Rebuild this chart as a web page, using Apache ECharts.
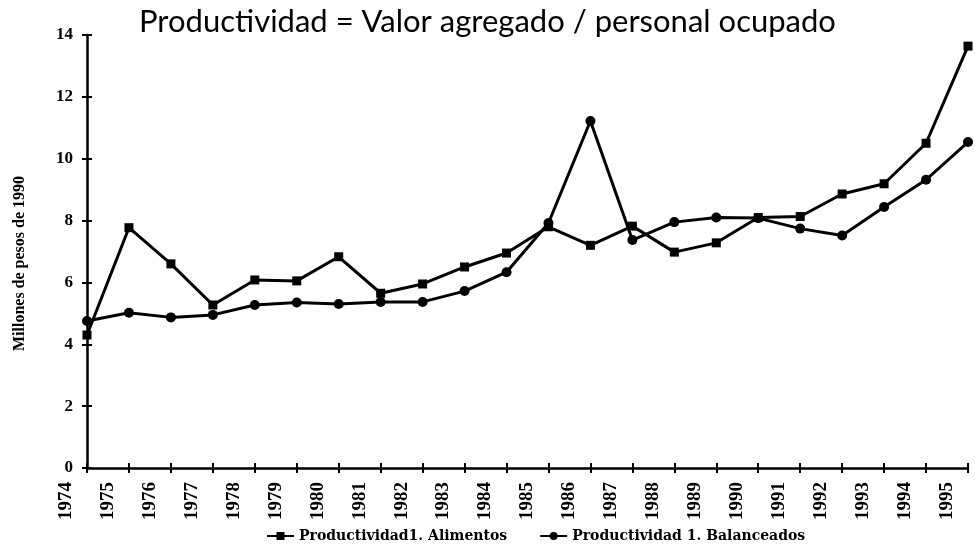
<!DOCTYPE html>
<html>
<head>
<meta charset="utf-8">
<script src="https://cdn.jsdelivr.net/npm/echarts@6/dist/echarts.min.js"></script>
<style>
html,body{margin:0;padding:0;background:#fff;}
#chart{width:975px;height:552px;}
</style>
</head>
<body>
<div id="chart"></div>
<script>
const titleText = 'Productividad = Valor agregado / personal ocupado';
const yAxisName = 'Millones de pesos de 1990';
const years = ['1974','1975','1976','1977','1978','1979','1980','1981','1982','1983','1984','1985','1986','1987','1988','1989','1990','1991','1992','1993','1994','1995'];
const nameAlimentos = 'Productividad1. Alimentos';
const nameBalanceados = 'Productividad 1. Balanceados';
const alimentos = [4.3, 7.77, 6.6, 5.27, 6.08, 6.05, 6.83, 5.65, 5.95, 6.5, 6.95, 7.8, 7.2, 7.82, 6.98, 7.28, 8.1, 8.13, 8.86, 9.19, 10.5, 13.64];
const balanceados = [4.75, 5.02, 4.87, 4.95, 5.27, 5.35, 5.3, 5.37, 5.37, 5.72, 6.33, 7.92, 11.22, 7.37, 7.95, 8.1, 8.08, 7.74, 7.52, 8.44, 9.32, 10.54];
const yTicks = {min: 0, max: 14, interval: 2};

const serif = '"Liberation Serif", "DejaVu Serif", serif';
const chart = echarts.init(document.getElementById('chart'));
chart.setOption({
  backgroundColor: '#fff',
  animation: false,
  title: {
    text: titleText, left: 'center', top: 1,
    textStyle: {fontFamily: 'Lato, "Open Sans", sans-serif', fontSize: 31, fontWeight: 'normal', color: '#000'}
  },
  legend: {
    bottom: 4, left: 261, itemGap: 32, itemWidth: 27, itemHeight: 10,
    textStyle: {fontFamily: '"DejaVu Serif", serif', fontWeight: 'bold', fontSize: 14, color: '#000'},
    data: [nameAlimentos, nameBalanceados]
  },
  grid: [
    {left: 87, right: 7, top: 35, bottom: 84, containLabel: false},
    {left: 45, right: 7, top: 35, bottom: 84, containLabel: false}
  ],
  xAxis: [{
    type: 'category', data: years, boundaryGap: false, position: 'bottom', gridIndex: 0,
    axisLine: {lineStyle: {color: '#000', width: 2.5}},
    axisTick: {show: true, length: 5, inside: false, lineStyle: {color: '#000', width: 2}},
    axisLabel: {show: false},
    splitLine: {show: false}
  }, {
    type: 'category', data: years, boundaryGap: false, position: 'bottom', gridIndex: 0,
    axisLine: {show: false},
    axisTick: {show: true, length: 5, inside: true, lineStyle: {color: '#000', width: 2}},
    axisLabel: {show: false}, splitLine: {show: false}
  }, {
    type: 'category', data: years, boundaryGap: true, position: 'bottom', gridIndex: 1,
    axisLine: {show: false}, axisTick: {show: false},
    axisLabel: {rotate: 90, interval: 0, margin: 14, color: '#000', fontFamily: serif, fontWeight: 'bold', fontSize: 19},
    splitLine: {show: false}
  }],
  yAxis: [{
    type: 'value', min: yTicks.min, max: yTicks.max, interval: yTicks.interval, position: 'left', gridIndex: 0,
    name: yAxisName, nameLocation: 'middle', nameGap: 59, nameRotate: 90,
    nameTextStyle: {fontFamily: serif, fontWeight: 'bold', fontSize: 16, color: '#000', padding: [0, 24, 0, 0]},
    axisLine: {show: true, lineStyle: {color: '#000', width: 2.5}},
    axisTick: {show: true, length: 5, lineStyle: {color: '#000', width: 2}},
    axisLabel: {margin: 14, color: '#000', fontFamily: serif, fontWeight: 'bold', fontSize: 17},
    splitLine: {show: false}
  }, {
    type: 'value', min: yTicks.min, max: yTicks.max, interval: yTicks.interval, position: 'left', gridIndex: 0,
    axisLine: {show: false},
    axisTick: {show: true, length: 5, inside: true, lineStyle: {color: '#000', width: 2}},
    axisLabel: {show: false}, splitLine: {show: false}
  }, {
    type: 'value', min: yTicks.min, max: yTicks.max, interval: yTicks.interval, gridIndex: 1, show: false
  }],
  series: [{
    name: nameAlimentos, type: 'line', data: alimentos, xAxisIndex: 0, yAxisIndex: 0,
    symbol: 'rect', symbolSize: 9,
    lineStyle: {color: '#000', width: 3}, itemStyle: {color: '#000'}
  }, {
    name: nameBalanceados, type: 'line', data: balanceados, xAxisIndex: 0, yAxisIndex: 0,
    symbol: 'circle', symbolSize: 10,
    lineStyle: {color: '#000', width: 3}, itemStyle: {color: '#000'}
  }]
});
</script>
</body>
</html>
